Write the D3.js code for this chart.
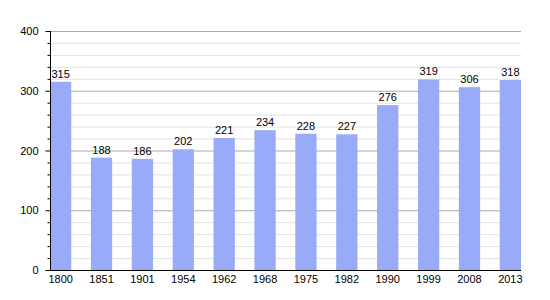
<!DOCTYPE html>
<html>
<head>
<meta charset="utf-8">
<script src="https://cdn.jsdelivr.net/npm/d3@7"></script>
<style>
  body { margin: 0; background: #fff; }
  text { font-family: "Liberation Sans", Arial, sans-serif; font-size: 11px; fill: #000; }
</style>
</head>
<body>
<svg id="chart" width="550" height="300"></svg>
<script>
// population by year
const years = ['1800', '1851', '1901', '1954', '1962', '1968', '1975', '1982', '1990', '1999', '2008', '2013'];
const population = [315, 188, 186, 202, 221, 234, 228, 227, 276, 319, 306, 318];
const majorTicks = [0, 100, 200, 300, 400];

let svg = d3.select('#chart')

let x = d3.scaleBand()
    .domain(years)
    .range([50, 521])
    .paddingInner(0.48)
    .paddingOuter(0)

let y = d3.scaleLinear()
    .domain([0, 400])
    .range([270, 31])

// minor grid every 20
let minor = d3.range(0, 401, 20).filter(v => v % 100 !== 0)
svg.append('g')
    .selectAll('line')
    .data(minor)
    .enter()
    .append('line')
    .attr('x1', 50).attr('x2', 521)
    .attr('y1', d => y(d) + 0.5).attr('y2', d => y(d) + 0.5)
    .attr('stroke', '#e3e3e3')

// major grid
svg.append('g')
    .selectAll('line')
    .data(majorTicks.filter(v => v > 0))
    .enter()
    .append('line')
    .attr('x1', 50).attr('x2', 521)
    .attr('y1', d => y(d) + 0.5).attr('y2', d => y(d) + 0.5)
    .attr('stroke', '#aaaaaa')

// bars
svg.append('g')
    .selectAll('rect')
    .data(population)
    .enter()
    .append('rect')
    .attr('x', (d, i) => x(years[i]))
    .attr('y', d => y(d))
    .attr('width', x.bandwidth())
    .attr('height', d => y(0) - y(d))
    .attr('fill', '#99aaf9')

// value labels
svg.append('g')
    .selectAll('text')
    .data(population)
    .enter()
    .append('text')
    .attr('x', (d, i) => x(years[i]) + x.bandwidth() / 2)
    .attr('y', d => y(d) - 4)
    .attr('text-anchor', 'middle')
    .text(d => d)

// y axis: major ticks with labels, minor ticks without
let yAxis = svg.append('g').attr('transform', 'translate(50.5,0)')
yAxis.call(d3.axisLeft(y).tickValues(majorTicks).tickSize(5).tickPadding(7))
yAxis.selectAll('.tick')
    .attr('transform', d => `translate(0,${y(d) + 0.5})`)
yAxis.selectAll('.domain').attr('d', `M0,${y(400)}V${y(0)}`)
yAxis.selectAll('text').style('font-family', '"Liberation Sans", Arial, sans-serif').style('font-size', '11px')
yAxis.selectAll('.minor')
    .data(minor)
    .enter()
    .append('line')
    .attr('class', 'minor')
    .attr('x1', -3).attr('x2', 0)
    .attr('y1', d => y(d) + 0.5).attr('y2', d => y(d) + 0.5)
    .attr('stroke', '#000')

// x axis
let xAxis = svg.append('g').attr('transform', 'translate(0,270.5)')
xAxis.call(d3.axisBottom(x).tickSize(0).tickPadding(5))
xAxis.selectAll('.domain').attr('d', 'M50,0H521')
xAxis.selectAll('text').style('font-family', '"Liberation Sans", Arial, sans-serif').style('font-size', '11px')
</script>
</body>
</html>
